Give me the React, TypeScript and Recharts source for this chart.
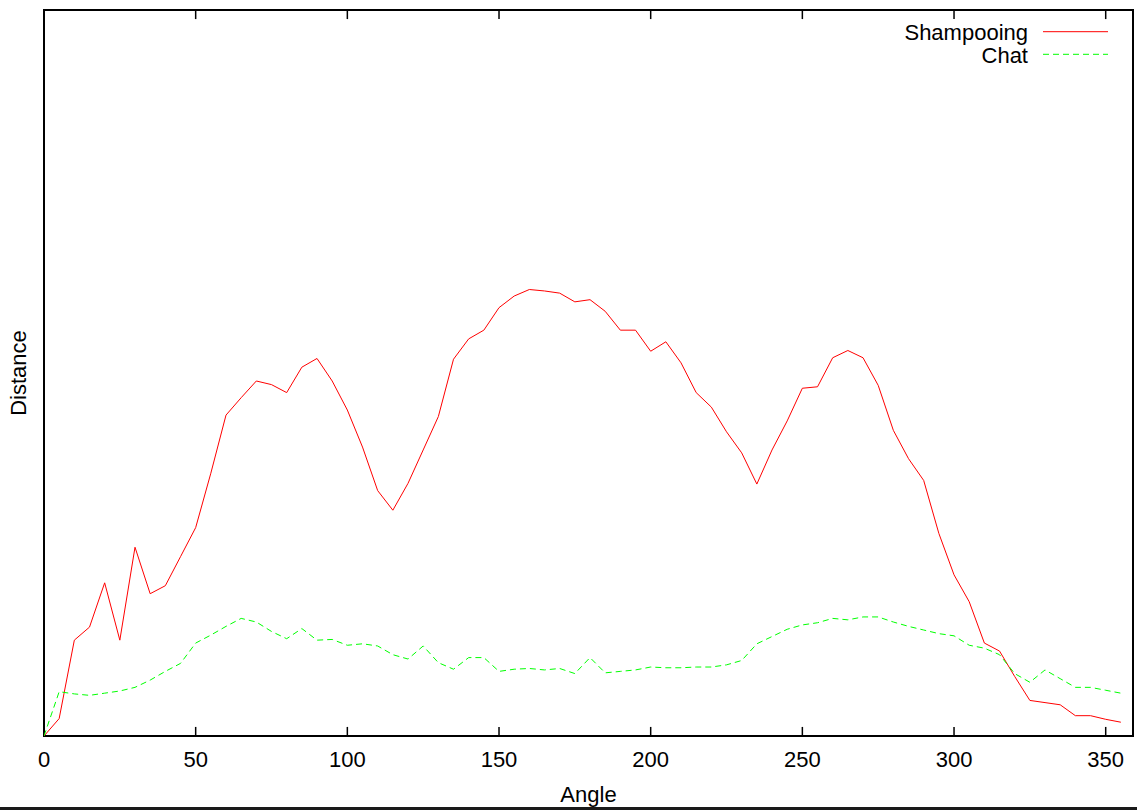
import React from 'react'
import {
  LineChart,
  Line,
  XAxis,
  YAxis,
  Legend,
  ReferenceArea,
  ReferenceLine,
} from 'recharts'

const ANGLES = [
  0, 5, 10, 15, 20, 25, 30, 35, 40, 45, 50, 55, 60, 65, 70, 75, 80, 85, 90, 95,
  100, 105, 110, 115, 120, 125, 130, 135, 140, 145, 150, 155, 160, 165, 170, 175,
  180, 185, 190, 195, 200, 205, 210, 215, 220, 225, 230, 235, 240, 245, 250, 255,
  260, 265, 270, 275, 280, 285, 290, 295, 300, 305, 310, 315, 320, 325, 330, 335,
  340, 345, 350, 355,
]

const SHAMPOOING = [
  0, 2.4, 13.2, 15.0, 21.1, 13.2, 26.0, 19.6, 20.7, 24.7, 28.7, 36.2, 44.2, 46.6,
  48.9, 48.4, 47.3, 50.8, 52.0, 48.9, 44.9, 39.8, 33.8, 31.1, 34.8, 39.4, 44.0,
  51.9, 54.7, 55.9, 59.0, 60.6, 61.5, 61.3, 61.0, 59.8, 60.1, 58.5, 55.9, 55.9,
  53.0, 54.3, 51.4, 47.3, 45.3, 41.9, 39.0, 34.7, 39.4, 43.4, 47.9, 48.1, 52.1,
  53.1, 52.1, 48.3, 42.1, 38.2, 35.2, 27.9, 22.2, 18.5, 12.8, 11.7, 8.2, 4.9, 4.6,
  4.3, 2.8, 2.8, 2.3, 1.9,
]

const CHAT = [
  0, 6.1, 5.8, 5.6, 5.9, 6.2, 6.7, 7.7, 8.9, 10.0, 12.8, 13.9, 15.1, 16.2, 15.7,
  14.4, 13.4, 14.8, 13.2, 13.3, 12.5, 12.7, 12.4, 11.2, 10.6, 12.4, 10.1, 9.2,
  10.8, 10.8, 8.9, 9.2, 9.3, 9.1, 9.3, 8.6, 10.8, 8.7, 8.9, 9.1, 9.5, 9.4, 9.4,
  9.5, 9.5, 9.8, 10.4, 12.7, 13.7, 14.7, 15.3, 15.6, 16.2, 16.0, 16.4, 16.4, 15.7,
  15.1, 14.6, 14.1, 13.8, 12.5, 12.1, 11.2, 8.6, 7.4, 9.1, 7.9, 6.7, 6.7, 6.3, 5.9,
]

const X_TICKS = [0, 50, 100, 150, 200, 250, 300, 350]

const SERIES = [
  { key: 'shampooing', name: 'Shampooing', color: '#ff0000', dash: undefined },
  { key: 'chat', name: 'Chat', color: '#00ff00', dash: '6 4' },
]

const X_MAX = 359
const Y_MAX = 100
const TICK_LEN = 1.25 // in y units, about 9px

const FONT = '"Liberation Sans", Arial, Helvetica, sans-serif'

const data = ANGLES.map((angle, i) => ({
  angle,
  shampooing: SHAMPOOING[i],
  chat: CHAT[i],
}))

const BottomTick = ({ x, y, payload }: any) => (
  <text
    x={x}
    y={y + 31}
    textAnchor="middle"
    fontSize={22}
    fontFamily={FONT}
    fill="#000"
  >
    {payload.value}
  </text>
)

const YLabel = ({ viewBox }: any) => {
  const x = viewBox.x + viewBox.width - 18
  const y = viewBox.y + viewBox.height / 2
  return (
    <text
      x={x}
      y={y}
      transform={`rotate(-90, ${x}, ${y})`}
      textAnchor="middle"
      fontSize={22}
      fontFamily={FONT}
      fill="#000"
    >
      Distance
    </text>
  )
}

const KeyBox = () => (
  <svg width={267} height={70} style={{ display: 'block' }}>
    {SERIES.map((s, i) => (
      <g key={s.key}>
        <text
          x={158}
          y={39.5 + i * 23}
          textAnchor="end"
          fontSize={22}
          fontFamily={FONT}
          fill="#000"
        >
          {s.name}
        </text>
        <line
          x1={173}
          x2={238}
          y1={31.7 + i * 22.6}
          y2={31.7 + i * 22.6}
          stroke={s.color}
          strokeWidth={1}
          strokeDasharray={s.dash}
        />
      </g>
    ))}
  </svg>
)

export default function App() {
  return (
    <div style={{ width: 1137, borderBottom: '3px solid #1a1a1a' }}>
      <style>{'body{margin:0}'}</style>
      <LineChart
        width={1137}
        height={807}
        data={data}
        margin={{ top: 10, right: 4, bottom: 31, left: 0 }}
        style={{ fontFamily: FONT, background: '#fff' }}
      >
        <XAxis
          dataKey="angle"
          type="number"
          domain={[0, X_MAX]}
          ticks={X_TICKS}
          allowDataOverflow
          height={40}
          tickSize={0}
          tickMargin={0}
          tickLine={false}
          axisLine={false}
          tick={<BottomTick />}
          label={{
            value: 'Angle',
            position: 'bottom',
            offset: 10,
            fontSize: 22,
            fill: '#000',
            fontFamily: FONT,
          }}
        />
        <YAxis
          type="number"
          domain={[0, Y_MAX]}
          width={44}
          tick={false}
          tickLine={false}
          axisLine={false}
          label={<YLabel />}
        />
        {X_TICKS.map((t) => (
          <ReferenceLine
            key={`b-${t}`}
            segment={[
              { x: t, y: 0 },
              { x: t, y: TICK_LEN },
            ]}
            stroke="#000"
            strokeWidth={1.5}
          />
        ))}
        {X_TICKS.map((t) => (
          <ReferenceLine
            key={`t-${t}`}
            segment={[
              { x: t, y: Y_MAX },
              { x: t, y: Y_MAX - TICK_LEN },
            ]}
            stroke="#000"
            strokeWidth={1.5}
          />
        ))}
        <ReferenceArea
          x1={0}
          x2={X_MAX}
          y1={0}
          y2={Y_MAX}
          fill="none"
          fillOpacity={0}
          stroke="#000"
          strokeWidth={2}
          strokeOpacity={1}
        />
        <Legend
          layout="horizontal"
          verticalAlign="middle"
          align="center"
          content={<KeyBox />}
          wrapperStyle={{ position: 'absolute', top: 0, left: 870, width: 267, height: 70 }}
        />
        {SERIES.map((s) => (
          <Line
            key={s.key}
            type="linear"
            dataKey={s.key}
            name={s.name}
            stroke={s.color}
            strokeWidth={1}
            strokeDasharray={s.dash}
            dot={false}
            activeDot={false}
            isAnimationActive={false}
          />
        ))}
      </LineChart>
    </div>
  )
}
